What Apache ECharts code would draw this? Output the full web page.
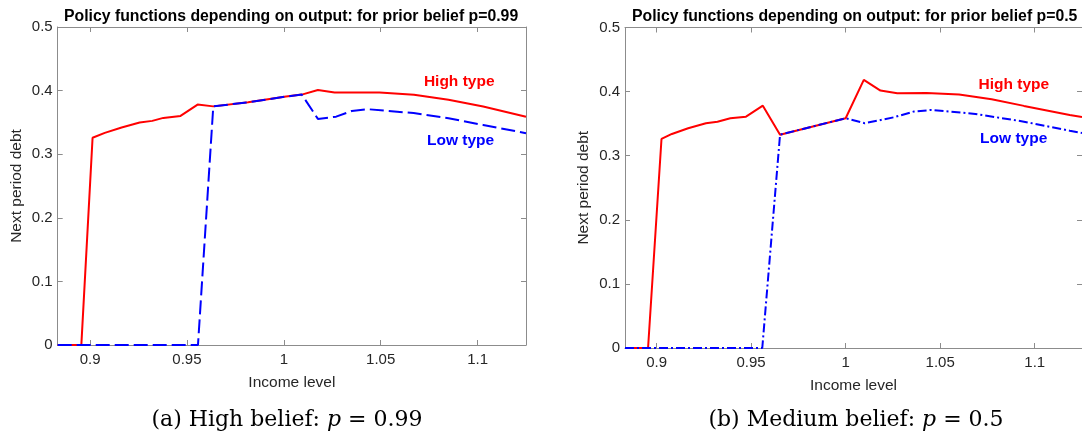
<!DOCTYPE html>
<html><head><meta charset="utf-8">
<script src="https://cdn.jsdelivr.net/npm/echarts@6/dist/echarts.min.js"></script>
<style>html,body{margin:0;padding:0;background:#fff}#c{width:1082px;height:443px}</style>
</head><body><div id="c"></div>
<script>
// ---- data: panel (a) p = 0.99 ----
const incomeHighA = [0.8833, 0.8955, 0.9013, 0.9076, 0.9163, 0.9256, 0.9321, 0.9378, 0.9467, 0.9555, 0.9636, 0.9816, 1.0012, 1.0093, 1.0176, 1.0262, 1.0494, 1.0672, 1.085, 1.1029, 1.125];
const debtHighA   = [0, 0, 0.3259, 0.3335, 0.3421, 0.3497, 0.3524, 0.3571, 0.3602, 0.378, 0.3752, 0.3817, 0.3906, 0.3937, 0.401, 0.397, 0.3969, 0.3935, 0.3855, 0.375, 0.359];
const incomeLowA  = [0.8833, 0.9557, 0.9636, 0.9816, 1.0012, 1.0093, 1.0176, 1.027, 1.0351, 1.0435, 1.067, 1.085, 1.1029, 1.125];
const debtLowA    = [0, 0, 0.3752, 0.3817, 0.3906, 0.3937, 0.3555, 0.359, 0.368, 0.3707, 0.3647, 0.3565, 0.346, 0.333];
// ---- data: panel (b) p = 0.5 ----
const incomeHighB = [0.8833, 0.8955, 0.9026, 0.9081, 0.9167, 0.9261, 0.9322, 0.939, 0.9473, 0.9562, 0.9653, 1.0, 1.0096, 1.0184, 1.0273, 1.0428, 1.06, 1.0772, 1.0943, 1.1185, 1.125];
const debtHighB   = [0, 0, 0.3261, 0.3339, 0.3428, 0.3506, 0.3531, 0.3584, 0.3609, 0.3781, 0.3328, 0.3584, 0.4183, 0.4016, 0.3975, 0.398, 0.3953, 0.3881, 0.3777, 0.3636, 0.3605];
const incomeLowB  = [0.8833, 0.9559, 0.9653, 1.0, 1.0101, 1.0256, 1.0359, 1.0454, 1.0686, 1.0943, 1.1185, 1.125];
const debtLowB    = [0, 0, 0.3328, 0.3584, 0.3506, 0.36, 0.3688, 0.3714, 0.3652, 0.3531, 0.339, 0.3355];
// ---- axes / text ----
const xTicks = [0.9, 0.95, 1, 1.05, 1.1];
const xRange = [0.8833, 1.125];
const yRange = [0, 0.5];
const yStep = 0.1;
const titles = ['Policy functions depending on output: for prior belief p=0.99', 'Policy functions depending on output: for prior belief p=0.5'];
const captionsLead = ['(a) High belief: ', '(b) Medium belief: '];
const captionsTail = [' = 0.99', ' = 0.5'];
const typeNames = ['High type', 'Low type'];
const typeAnchorsA = [[1.0723, 0.4145], [1.0739, 0.321]];
const typeAnchorsB = [[1.0703, 0.4105], [1.0711, 0.326]];

const SANS = '"Liberation Sans", Arial, Helvetica, sans-serif';
const axisColor = '#8c8c8c';
const textColor = '#262626';
const zip = (a, b) => a.map((v, i) => [v, b[i]]);

function xAx(gi, pos, withLabels) {
  return {
    type: 'value', gridIndex: gi, position: pos, min: xRange[0], max: xRange[1],
    axisLine: { show: true, onZero: false, lineStyle: { color: axisColor, width: 1 } },
    axisTick: { show: true, inside: true, length: 5, customValues: xTicks, lineStyle: { color: axisColor } },
    axisLabel: { show: withLabels, customValues: xTicks, formatter: v => String(+(+v).toFixed(2)),
      color: textColor, fontSize: 15, fontFamily: SANS, margin: 7 },
    splitLine: { show: false },
    name: withLabels ? 'Income level' : '', nameLocation: 'middle', nameGap: 30,
    nameTextStyle: { color: textColor, fontSize: 15.5, fontFamily: SANS }
  };
}
function yAx(gi, pos, withLabels) {
  return {
    type: 'value', gridIndex: gi, position: pos, min: yRange[0], max: yRange[1], interval: yStep,
    axisLine: { show: true, onZero: false, lineStyle: { color: axisColor, width: 1 } },
    axisTick: { show: true, inside: true, length: 5, lineStyle: { color: axisColor } },
    axisLabel: { show: withLabels, formatter: v => String(+(+v).toFixed(1)),
      color: textColor, fontSize: 15, fontFamily: SANS, margin: 5 },
    splitLine: { show: false },
    name: withLabels ? 'Next period debt' : '', nameLocation: 'middle', nameGap: 33,
    nameTextStyle: { color: textColor, fontSize: 15.5, fontFamily: SANS }
  };
}
function line(xi, yi, data, color, type) {
  return { type: 'line', xAxisIndex: xi, yAxisIndex: yi, data: data, symbol: 'none', silent: true,
    lineStyle: { color: color, width: 2, type: type }, clip: true };
}

const chart = echarts.init(document.getElementById('c'), null, { renderer: 'canvas' });
const option = {
  animation: false,
  backgroundColor: '#fff',
  grid: [
    { left: 57.7, top: 27, width: 468.3, height: 318 },
    { left: 625, top: 27.5, width: 467, height: 320.5 }
  ],
  xAxis: [xAx(0, 'bottom', true), xAx(0, 'top', false), xAx(1, 'bottom', true), xAx(1, 'top', false)],
  yAxis: [yAx(0, 'left', true), yAx(0, 'right', false), yAx(1, 'left', true), yAx(1, 'right', false)],
  series: [
    line(0, 0, zip(incomeHighA, debtHighA), '#ff0000', 'solid'),
    line(0, 0, zip(incomeLowA, debtLowA), '#0000ff', [14, 5]),
    line(2, 2, zip(incomeHighB, debtHighB), '#ff0000', 'solid'),
    line(2, 2, zip(incomeLowB, debtLowB), '#0000ff', [9, 3, 2, 3])
  ]
};
chart.setOption(option);

function typeLabels(anchors, xi, yi) {
  return anchors.map((a, i) => {
    const p = chart.convertToPixel({ xAxisIndex: xi, yAxisIndex: yi }, a);
    return { type: 'text', x: p[0], y: p[1], silent: true,
      style: { text: typeNames[i], fill: i === 0 ? '#ff0000' : '#0000ff', font: 'bold 15.5px ' + SANS,
        textAlign: 'left', textVerticalAlign: 'middle' } };
  });
}
const SERIF = '"DejaVu Serif", "Liberation Serif", serif';
function caption(i, cx) {
  return { type: 'text', x: cx, y: 420, silent: true,
    style: { text: captionsLead[i] + '{i|p}' + captionsTail[i], fill: '#000',
      font: '22px ' + SERIF, textAlign: 'center', textVerticalAlign: 'middle',
      rich: { i: { fontStyle: 'italic', fontSize: 22, fontFamily: SERIF, fill: '#000' } } } };
}
chart.setOption({
  graphic: [
    { type: 'text', x: 64, y: 16.5, silent: true, style: { text: titles[0], fill: '#000', font: 'bold 15.8px ' + SANS, textAlign: 'left', textVerticalAlign: 'middle' } },
    { type: 'text', x: 632, y: 16.5, silent: true, style: { text: titles[1], fill: '#000', font: 'bold 15.8px ' + SANS, textAlign: 'left', textVerticalAlign: 'middle' } },
    ...typeLabels(typeAnchorsA, 0, 0),
    ...typeLabels(typeAnchorsB, 2, 2),
    caption(0, 287),
    caption(1, 856)
  ]
});
</script></body></html>
